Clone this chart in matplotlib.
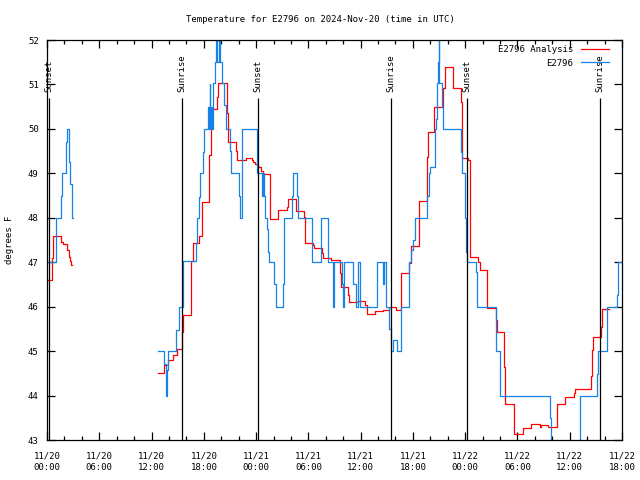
import numpy as np
import matplotlib
matplotlib.use("Agg")
import matplotlib.pyplot as plt

# hours since 2024-11-20 00:00 UTC, temperatures in deg F (NaN = gap)
nan = np.nan

analysis_hours = [
    0.0, 0.61, 0.72, 1.64, 1.80, 2.33, 2.53, 2.64, 2.75, 2.90, nan,
    12.78, 13.46, 13.92, 14.50, 14.89, 15.53, 15.64, 16.53, 16.72, 17.48,
    17.76, 18.63, 18.79, 18.86, 19.48, 19.66, 20.63, 20.74, 21.66, 21.77,
    22.81, 23.50, 23.68, 23.88, 24.25, 24.56, 24.76, 25.60, 26.55, 27.51,
    27.70, 28.58, 29.50, 29.61, 30.50, 30.68, 31.60, 31.71, 32.60, 33.63,
    33.75, 34.58, 34.70, 35.66, 36.50, 36.70, 37.65, 38.60, 39.29, 40.06,
    40.60, 41.59, 41.75, 42.73, 43.58, 43.70, 44.46, 45.49, 45.68, 46.64,
    47.52, 47.60, 48.36, 48.55, 49.50, 49.70, 50.54, 51.50, 51.62, 52.49,
    52.57, 53.60, 53.64, 54.60, 54.67, 55.56, 56.59, 56.70, 57.54, 58.50,
    58.57, 59.46, 60.49, 60.60, 62.44, 62.59, 62.71, 63.56, 63.67, 64.51,
]
analysis_temps = [
    46.6, 47.1, 47.6, 47.46, 47.4, 47.27, 47.12, 47.03, 46.94, 46.94, nan,
    44.51, 44.69, 44.79, 44.91, 45.05, 45.44, 45.81, 47.03, 47.43, 47.6,
    48.36, 49.41, 50.01, 50.44, 50.72, 51.03, 50.35, 49.71, 49.5, 49.3,
    49.34, 49.3, 49.25, 49.21, 49.15, 49.05, 48.98, 47.97, 48.17, 48.25,
    48.42, 48.15, 48.02, 47.43, 47.38, 47.31, 47.2, 47.09, 47.05, 46.75,
    46.45, 46.26, 46.11, 46.13, 46.04, 45.83, 45.9, 45.92, 46.0, 45.92,
    46.75, 46.98, 47.36, 48.37, 49.37, 49.92, 50.49, 50.91, 51.39, 50.91,
    50.61, 49.34, 49.3, 47.12, 47.01, 46.82, 45.96, 45.7, 45.42, 44.65,
    43.82, 43.46, 43.13, 43.2, 43.26, 43.37, 43.3, 43.33, 43.3, 43.6,
    43.8, 43.97, 44.05, 44.14, 44.45, 45.02, 45.31, 45.55, 45.94, 45.94,
]

obs_hours = [
    0.0, 1.03, 1.57, 1.72, 2.15, 2.22, 2.26, 2.49, 2.56, 2.67, 2.84, 2.90, 2.95, nan,
    12.78, 13.46, 13.69, 13.81, 13.92, 14.81, 15.19, 15.58, 15.64, 17.10,
    17.18, 17.48, 17.56, 17.94, 18.06, 18.51, 18.56, 18.68, 18.74, 18.82,
    18.90, 19.09, 19.28, 19.40, 19.57, 19.69, 19.86, 20.12, 20.32, 20.49,
    21.00, 21.12, 22.04, 22.15, 22.35, 22.42, 24.07, 24.14, 24.71, 24.83,
    24.91, 25.02, 25.29, 25.40, 25.52, 26.09, 26.25, 27.05, 27.20, 28.09,
    28.20, 28.66, 28.85, 30.45, 31.42, 32.29, 32.79, 32.86, 32.94, 33.83,
    34.01, 34.13, 35.09, 35.16, 35.43, 35.73, 35.93, 37.84, 38.57, 38.68,
    38.88, 39.29, 39.45, 39.75, 40.17, 40.63, 41.59, 41.75, 42.05, 42.24,
    43.58, 43.81, 43.96, 44.54, 44.66, 44.80, 44.91, 44.95, 45.03, 45.31,
    45.42, 47.52, 47.67, 47.98, 48.10, 48.24, 49.21, 49.30, 49.39, 51.50,
    52.00, 57.74, 57.86, 61.18, 63.10, 63.21, 64.24, 65.46, 65.58, 66.0,
]
obs_temps = [
    47.0, 48.0, 48.5, 49.0, 49.26, 49.7, 50.0, 49.7, 49.26, 48.76, 48.29, 48.0, 48.0, nan,
    45.0, 44.72, 44.0, 44.57, 45.0, 45.47, 46.0, 46.49, 47.03, 47.43,
    47.99, 48.47, 49.0, 49.49, 50.0, 50.5, 50.0, 51.0, 50.0, 50.5,
    50.0, 51.03, 51.5, 52.3, 51.5, 52.3, 51.51, 51.03, 50.54, 50.0,
    49.5, 49.0, 48.5, 48.0, 48.5, 50.0, 49.5, 49.0, 48.5, 49.0,
    48.5, 48.0, 47.74, 47.24, 47.0, 46.5, 46.0, 46.5, 48.0, 48.5,
    49.0, 48.5, 48.0, 47.0, 48.0, 47.0, 46.5, 46.0, 47.0, 46.5,
    46.0, 47.0, 46.82, 46.5, 46.0, 47.0, 46.0, 47.0, 46.5, 47.0,
    46.0, 45.5, 45.0, 45.25, 45.0, 46.0, 47.0, 47.27, 47.5, 48.0,
    48.5, 49.0, 49.15, 50.0, 50.22, 51.03, 51.5, 52.3, 51.03, 50.49,
    50.0, 49.49, 49.0, 48.0, 47.24, 47.0, 46.77, 46.26, 46.0, 45.0,
    44.0, 43.49, 42.5, 44.0, 44.48, 45.0, 46.0, 46.26, 47.0, 47.0,
]

sunset_hours = [0.27, 24.25, 48.24]
sunrise_hours = [15.45, 39.47, 63.5]

tick_hours = list(range(0, 67, 6))
tick_labels = [
    "11/20\n00:00", "11/20\n06:00", "11/20\n12:00", "11/20\n18:00",
    "11/21\n00:00", "11/21\n06:00", "11/21\n12:00", "11/21\n18:00",
    "11/22\n00:00", "11/22\n06:00", "11/22\n12:00", "11/22\n18:00",
]


def main() -> None:
    plt.rcParams["font.family"] = "DejaVu Sans Mono"
    plt.rcParams["font.size"] = 6.5

    fig = plt.figure(figsize=(6.4, 4.8), dpi=100)
    ax = fig.add_axes([47 / 640, 40 / 480, 575 / 640, 400 / 480])

    ax.step(analysis_hours, analysis_temps, where="post", color="#ff0000",
            lw=0.9, label="E2796 Analysis")
    ax.step(obs_hours, obs_temps, where="post", color="#1482e6",
            lw=0.9, label="E2796")

    # sunrise / sunset markers
    for h in sunset_hours:
        ax.vlines(h, 43, 50.69, color="black", lw=0.9)
        ax.text(h, 50.83, "Sunset", rotation=90, ha="center", va="bottom")
    for h in sunrise_hours:
        ax.vlines(h, 43, 50.69, color="black", lw=0.9)
        ax.text(h, 50.83, "Sunrise", rotation=90, ha="center", va="bottom")

    ax.set_xlim(0, 66)
    ax.set_ylim(43, 52)
    ax.set_xticks(tick_hours)
    ax.set_xticklabels(tick_labels, linespacing=1.45)
    ax.set_xticks(range(0, 67, 2), minor=True)
    ax.set_yticks(range(43, 53))
    ax.tick_params(which="both", direction="in", top=True, right=True,
                   width=0.9, color="black")
    ax.tick_params(which="major", length=6)
    ax.tick_params(which="minor", length=3)
    ax.tick_params(axis="x", pad=8)
    ax.tick_params(axis="y", pad=6)
    for s in ax.spines.values():
        s.set_linewidth(0.9)

    fig.text(0.5, 1 - 20 / 480, "Temperature for E2796 on 2024-Nov-20 (time in UTC)",
             ha="center", va="center")
    fig.text(10 / 640, 0.5, "degrees F", rotation=90, ha="center", va="center")

    ax.legend(loc="upper right", bbox_to_anchor=(609 / 640, 1 - 45 / 480),
              bbox_transform=fig.transFigure, frameon=False, markerfirst=False,
              borderpad=0, borderaxespad=0, handlelength=3.1,
              handletextpad=0.9, labelspacing=0.5)

    fig.savefig("out.png", dpi=100)
    plt.close(fig)


if __name__ == "__main__":
    main()
